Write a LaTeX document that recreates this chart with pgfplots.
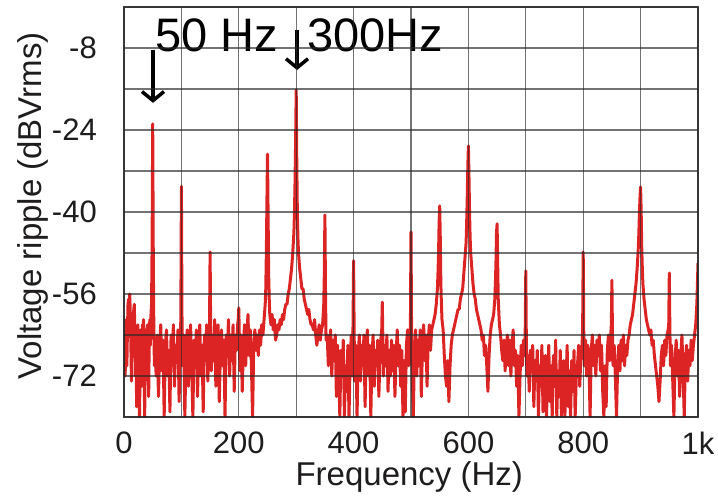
\documentclass[border=0pt]{standalone}
\usepackage{pgfplots}
\pgfplotsset{compat=1.18}
\usepackage{fontspec}
\setmainfont{Liberation Sans}
\usetikzlibrary{arrows.meta}
\definecolor{ripple}{RGB}{221,36,36}
\definecolor{gridc}{RGB}{40,40,40}
\definecolor{txt}{RGB}{30,28,28}
\begin{document}
\begin{tikzpicture}
\useasboundingbox (0,0) rectangle (718pt,496pt);
\begin{axis}[
  at={(124pt,79pt)}, anchor=south west,
  scale only axis, width=574pt, height=410pt,
  xmin=0, xmax=1000, ymin=-80, ymax=0,
  xtick={0,200,...,1000}, xticklabels={0,200,400,600,800,1k},
  minor xtick={100,300,...,900},
  ytick={-72,-56,-40,-24,-8}, yticklabels={-72,-56,-40,-24,-8},
  minor ytick={-80,-64,-48,-32,-16,0},
  major tick length=0pt, minor tick length=0pt,
  grid=both,
  major grid style={gridc, opacity=0.65, line width=1.2pt},
  minor grid style={gridc, opacity=0.65, line width=1.2pt},
  axis line style={gridc, opacity=0.8, line width=1.2pt},
  axis on top,
  tick label style={font=\fontsize{31}{36}\selectfont, text=txt, inner sep=0pt},
  xticklabel style={anchor=north, yshift=-15pt},
  yticklabel style={anchor=east, xshift=-27pt},
  every axis x label/.style={at={(axis description cs:0.497,-0.168)}, anchor=base},
  every axis y label/.style={at={(axis description cs:-0.143,0.515)}, rotate=90, anchor=base},
  label style={font=\fontsize{33}{38}\selectfont, text=txt, inner sep=0pt},
  xlabel={Frequency (Hz)},
  ylabel={Voltage ripple (dBVrms)},
  clip=true,
]
\addplot[ripple, line width=3pt, line join=round] coordinates {
(0,-68)(1,-64)(2,-72)(3,-66)(4,-61)(5,-70)(6,-63)(7,-58)(8,-57)(9,-62)(10,-56)(11,-60)(12,-66)(13,-73)(14,-64)(15,-60)(16,-68)(17,-59)(18,-58)(19,-65)(20,-72)(21,-66)(22,-78)(23,-68)(24,-62)(25,-70)(26,-64)(27,-80)(28,-71)(29,-63)(30,-67)(31,-74)(32,-62)(33,-66)(34,-61)(35,-70)(36,-80)(37,-68)(38,-63)(39,-72)(40,-65)(41,-62)(42,-69)(43,-76)(44,-64)(45,-61)(46,-66)(47,-60)(48,-58)(49,-46)(50,-22.8)(51,-48)(52,-63)(53,-70)
(54,-66)(56,-72)(58,-64)(60,-76)(62,-67)(64,-62)(66,-71)(68,-65)(70,-80)(72,-66)(74,-63)(76,-72)(78,-67)(80,-79)(82,-64)(84,-70)(86,-62)(88,-74)(90,-66)(92,-69)(94,-63)(96,-77)(98,-65)(99,-61)(100,-35)(101,-60)(102,-70)
(104,-64)(106,-80)(108,-68)(110,-63)(112,-74)(114,-66)(116,-62)(118,-71)(120,-80)(122,-65)(124,-70)(126,-63)(128,-76)(130,-68)(132,-62)(134,-72)(136,-66)(138,-79)(140,-64)(142,-69)(144,-62)(146,-73)(148,-65)(149,-62)(150,-47.8)(151,-63)(152,-71)
(154,-64)(156,-69)(158,-61)(160,-74)(162,-65)(164,-62)(166,-77)(168,-67)(170,-63)(172,-70)(174,-65)(176,-80)(178,-64)(180,-68)(182,-61)(184,-72)(186,-64)(188,-69)(190,-62)(192,-75)(194,-64)(196,-67)(198,-62)(199,-61)(200,-58.7)(201,-65)(202,-71)
(204,-64)(206,-75)(208,-66)(210,-62)(212,-70)(214,-64)(216,-60)(218,-68)(220,-63)(222,-70)(224,-80)(226,-66)(228,-63)(230,-67)(232,-64)(234,-68)(236,-63)(238,-66)(240,-62)(242,-64)(244,-61)(246,-58)(247,-55)(248,-48)(249,-38)(250,-28.7)(251,-40)(252,-52)(253,-57)(254,-60)
(256,-62)(258,-60)(260,-63)(262,-61)(264,-65)(266,-64)(268,-62)(270,-63)(272,-61)(274,-62)(276,-60)(278,-61)(280,-59)(282,-58)(284,-58)(286,-56)(288,-55)(290,-53)(292,-51)(294,-48)(296,-44)(297,-40)(298,-34)(299,-26)(300,-16.2)(301,-30)(302,-40)(303,-45)(304,-48)
(306,-51)(308,-53)(310,-55)(312,-55)(314,-57)(316,-58)(318,-59)(320,-60)(322,-59)(324,-61)(326,-62)(328,-62)(330,-63)(332,-61)(334,-64)(336,-66)(338,-64)(340,-62)(342,-65)(344,-63)(346,-62)(348,-58)(349,-52)(350,-40.6)(351,-55)(352,-65)
(354,-64)(356,-70)(358,-66)(360,-63)(362,-72)(364,-65)(366,-69)(368,-64)(370,-76)(372,-66)(374,-70)(376,-80)(378,-67)(380,-72)(382,-65)(384,-80)(386,-70)(388,-75)(390,-66)(392,-80)(394,-69)(396,-64)(398,-72)(399,-62)(400,-49.5)(401,-64)(402,-73)
(404,-66)(406,-80)(408,-68)(410,-64)(412,-73)(414,-66)(416,-70)(418,-64)(420,-78)(422,-67)(424,-63)(426,-72)(428,-66)(430,-80)(432,-68)(434,-64)(436,-74)(438,-67)(440,-70)(442,-65)(444,-76)(446,-68)(448,-64)(449,-63)(450,-57.6)(451,-65)(452,-72)
(454,-66)(456,-70)(458,-64)(460,-75)(462,-67)(464,-72)(466,-65)(468,-71)(470,-66)(472,-76)(474,-68)(476,-63)(478,-70)(480,-66)(482,-74)(484,-67)(486,-80)(488,-69)(490,-79)(492,-66)(494,-63)(496,-70)(498,-64)(499,-62)(500,-43.9)(501,-63)(502,-70)
(504,-80)(506,-67)(508,-63)(510,-72)(512,-65)(514,-70)(516,-63)(518,-76)(520,-66)(522,-62)(524,-69)(526,-64)(528,-74)(530,-65)(532,-62)(534,-67)(536,-63)(538,-62)(540,-61)(542,-60)(544,-58)(546,-55)(547,-52)(548,-48)(549,-42)(550,-38.8)(551,-45)(552,-54)(553,-58)(554,-61)
(556,-63)(558,-68)(560,-72)(562,-74)(564,-69)(566,-77)(568,-70)(570,-66)(572,-64)(574,-63)(576,-62)(578,-61)(580,-60)(582,-59)(584,-59)(586,-57)(588,-56)(590,-55)(592,-52)(594,-49)(596,-46)(597,-42)(598,-37)(599,-31)(600,-27.1)(601,-33)(602,-40)(603,-45)(604,-48)
(606,-51)(608,-54)(610,-56)(612,-57)(614,-59)(616,-60)(618,-61)(620,-62)(622,-63)(624,-65)(626,-64)(628,-68)(630,-66)(632,-70)(634,-75)(636,-68)(638,-64)(640,-62)(642,-61)(644,-60)(646,-57)(647,-54)(648,-50)(649,-44)(650,-42.3)(651,-50)(652,-57)
(654,-62)(656,-64)(658,-67)(660,-69)(662,-65)(664,-71)(666,-66)(668,-64)(670,-70)(672,-65)(674,-72)(676,-66)(678,-63)(680,-70)(682,-67)(684,-74)(686,-68)(688,-80)(690,-72)(692,-66)(694,-70)(696,-65)(698,-68)(699,-63)(700,-51.5)(701,-66)(702,-72)
(704,-68)(706,-75)(708,-67)(710,-71)(712,-66)(714,-78)(716,-69)(718,-73)(720,-67)(722,-80)(724,-70)(726,-74)(728,-66)(730,-79)(732,-71)(734,-68)(736,-80)(738,-72)(740,-66)(742,-77)(744,-70)(746,-80)(748,-68)(750,-74)
(752,-65)(754,-80)(756,-71)(758,-76)(760,-67)(762,-80)(764,-72)(766,-69)(768,-80)(770,-74)(772,-66)(774,-78)(776,-71)(778,-80)(780,-69)(782,-75)(784,-67)(786,-80)(788,-72)(790,-70)(792,-66)(794,-74)(796,-68)(798,-66)(799,-63)(800,-47.8)(801,-64)(802,-70)
(804,-65)(806,-72)(808,-66)(810,-69)(812,-80)(814,-67)(816,-64)(818,-70)(820,-66)(822,-72)(824,-65)(826,-68)(828,-64)(830,-71)(832,-66)(834,-75)(836,-80)(838,-70)(840,-78)(842,-67)(844,-64)(846,-69)(848,-64)(849,-62)(850,-53.3)(851,-64)(852,-70)
(854,-66)(856,-72)(858,-80)(860,-70)(862,-66)(864,-71)(866,-65)(868,-69)(870,-64)(872,-70)(874,-66)(876,-68)(878,-65)(880,-64)(882,-62)(884,-61)(886,-60)(888,-58)(890,-56)(892,-54)(894,-51)(896,-47)(897,-44)(898,-40)(899,-37)(900,-35.1)(901,-40)(902,-47)(903,-51)(904,-54)
(906,-57)(908,-59)(910,-61)(912,-62)(914,-63)(916,-64)(918,-63)(920,-66)(922,-65)(924,-68)(926,-70)(928,-72)(930,-74)(932,-77)(934,-73)(936,-68)(938,-66)(940,-70)(942,-65)(944,-68)(946,-64)(948,-63)(949,-62)(950,-51.9)(951,-63)(952,-70)
(954,-66)(956,-73)(958,-80)(960,-69)(962,-65)(964,-72)(966,-67)(968,-76)(970,-68)(972,-64)(974,-71)(976,-80)(978,-69)(980,-66)(982,-73)(984,-67)(986,-70)(988,-65)(990,-69)(992,-66)(994,-64)(996,-62)(998,-58)(1000,-50)
};
\node[anchor=base west, inner sep=0pt, font=\fontsize{47}{52}\selectfont] at (axis cs:54,-8.78) {50 Hz};
\node[anchor=base west, inner sep=0pt, font=\fontsize{47}{52}\selectfont] at (axis cs:318.8,-8.78) {300Hz};
\draw[line width=3.5pt, -{Straight Barb[length=9pt,width=22pt]}] (axis cs:50.5,-8.4) -- (axis cs:50.5,-18.7);
\draw[line width=3.5pt, -{Straight Barb[length=9pt,width=22pt]}] (axis cs:301.4,-4.5) -- (axis cs:301.4,-12.3);
\end{axis}
\end{tikzpicture}
\end{document}
